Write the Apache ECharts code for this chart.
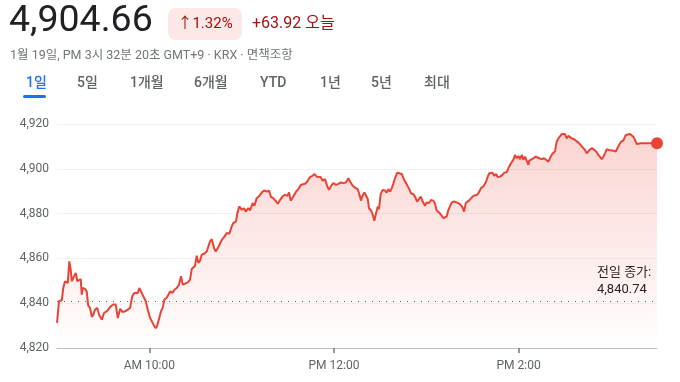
<!DOCTYPE html>
<html><head><meta charset="utf-8">
<script src="https://cdn.jsdelivr.net/npm/echarts@6/dist/echarts.min.js"></script>
<style>html,body{margin:0;padding:0;background:#fff}#c{width:680px;height:382px}</style>
</head><body><div id="c"></div>
<script>
// minutes since 09:00 (KRX session 09:00–15:30)
const minutes = [0,1.3,3.1,4.1,5.2,6.3,7.0,8.0,8.9,9.6,10.6,12.2,13.2,14.3,15.4,16.1,16.7,18.2,19.3,20.3,21.5,22.6,23.6,24.7,26.2,27.3,29.1,30.6,32.3,33.3,34.9,36.6,38.2,39.5,40.3,41.1,42.7,44.2,46.0,47.5,48.9,50.3,51.4,52.5,53.5,54.6,56.1,57.7,59.0,60.5,61.6,63.1,64.2,65.0,66.3,67.6,68.7,69.8,71.3,72.4,73.5,75.0,76.3,77.8,79.3,80.6,81.7,83.2,85.0,86.5,87.6,88.6,89.7,90.8,91.9,93.0,94.1,95.6,97.3,98.4,99.5,100.6,102.1,103.2,104.9,107.1,108.6,110.3,112.0,113.6,114.6,116.4,117.2,118.5,120.1,121.6,122.7,124.4,125.5,127.2,128.3,129.8,131.5,133.1,134.6,136.3,137.8,139.1,140.6,142.4,143.5,145.0,146.5,148.2,149.7,150.8,151.9,153.6,155.4,156.9,158.4,159.5,161.2,162.7,164.5,166.0,167.3,168.8,170.1,171.4,172.7,174.2,175.7,176.8,178.1,179.6,181.4,182.9,184.4,186.1,187.7,189.4,190.5,192.2,193.7,195.5,196.3,197.6,198.5,199.8,200.9,202.0,202.8,204.1,205.2,206.3,207.4,208.5,209.3,210.4,211.7,213.2,214.3,215.4,216.5,217.6,218.6,219.7,221.2,222.5,224.1,225.6,226.7,228.0,229.0,230.1,231.6,232.7,234.0,235.3,236.4,237.7,239.2,240.3,241.8,243.1,244.6,245.7,246.8,248.3,249.6,251.1,252.2,253.3,254.4,255.5,256.6,258.1,259.4,260.9,262.4,263.5,264.6,265.7,266.7,267.8,269.1,270.6,271.7,273.2,274.5,275.6,277.1,278.7,280.0,281.0,282.1,283.0,284.3,285.4,286.5,288.0,289.5,290.8,292.3,293.4,295.1,296.6,297.7,298.8,299.9,301.0,302.1,303.1,304.2,305.3,306.4,307.0,308.1,309.6,311.2,312.5,313.5,315.1,316.6,317.9,319.4,320.9,322.2,323.7,324.8,325.9,327.0,328.1,329.1,330.2,331.3,332.4,333.5,334.6,336.1,337.4,338.9,340.4,341.7,343.2,344.3,345.4,346.5,348.0,349.3,350.4,351.9,353.0,354.1,355.1,356.2,357.3,358.8,360.1,361.6,363.2,364.2,365.3,366.6,368.1,369.7,371.0,372.5,373.6,374.6,375.7,376.8,377.9,379.6,390];
const prices = [4831.2,4840.9,4841.3,4846.8,4849.8,4850.5,4849.0,4858.7,4855.0,4849.8,4851.3,4853.5,4849.8,4849.0,4850.8,4843.8,4846.8,4846.4,4845.3,4838.9,4837.9,4833.9,4834.9,4837.1,4837.9,4834.9,4832.7,4835.7,4836.4,4836.0,4838.6,4839.4,4839.4,4833.4,4833.0,4837.5,4836.0,4836.4,4837.1,4837.9,4843.1,4844.6,4845.3,4844.6,4846.8,4846.0,4843.1,4840.9,4837.1,4833.4,4833.0,4830.0,4828.8,4829.7,4833.0,4836.4,4837.9,4841.6,4842.4,4843.8,4845.3,4844.6,4846.0,4846.8,4848.3,4852.0,4848.3,4848.7,4849.3,4850.5,4855.3,4854.7,4856.7,4861.2,4858.0,4859.0,4861.7,4862.1,4863.1,4863.6,4867.6,4868.6,4864.6,4863.1,4865.1,4868.3,4869.5,4871.3,4871.0,4874.3,4875.8,4876.5,4880.2,4883.2,4881.7,4882.4,4880.9,4882.4,4881.4,4884.7,4883.5,4886.9,4887.9,4889.4,4890.3,4889.8,4890.3,4887.4,4886.9,4885.4,4884.4,4886.1,4887.6,4888.4,4887.9,4889.4,4885.8,4887.6,4889.8,4890.9,4892.8,4893.3,4893.3,4894.3,4896.3,4896.8,4897.7,4896.5,4897.3,4896.3,4894.7,4895.4,4892.1,4890.6,4892.4,4893.6,4892.8,4893.3,4893.9,4893.6,4893.9,4895.8,4894.3,4892.4,4891.6,4890.9,4889.1,4885.8,4887.9,4889.4,4889.1,4886.5,4882.4,4881.4,4879.5,4876.8,4880.2,4883.2,4882.0,4888.8,4890.6,4890.3,4889.4,4890.9,4889.8,4891.4,4893.3,4895.8,4898.3,4897.7,4897.7,4895.1,4893.9,4894.3,4890.9,4889.1,4888.7,4887.6,4885.4,4886.5,4887.6,4885.4,4883.5,4885.0,4884.7,4886.1,4885.8,4884.4,4881.4,4880.5,4879.5,4878.0,4877.6,4878.7,4881.7,4882.4,4885.0,4885.4,4884.7,4884.7,4883.9,4882.9,4880.9,4884.7,4885.0,4885.8,4885.4,4887.9,4887.4,4888.4,4889.8,4891.4,4892.1,4893.9,4896.5,4898.0,4897.3,4898.3,4896.8,4897.7,4896.3,4896.5,4897.3,4898.3,4898.5,4900.3,4902.5,4904.0,4906.2,4904.7,4905.7,4904.3,4906.2,4904.0,4905.4,4905.2,4901.7,4903.7,4904.3,4904.7,4905.4,4905.7,4904.7,4904.3,4904.7,4904.0,4903.2,4905.4,4906.9,4907.7,4912.1,4913.6,4914.3,4915.5,4915.1,4915.5,4913.6,4914.7,4915.1,4913.6,4913.2,4912.6,4911.7,4910.6,4910.2,4908.4,4906.9,4907.7,4908.7,4909.2,4909.2,4907.7,4906.2,4906.2,4904.3,4905.4,4906.9,4908.7,4908.4,4909.2,4908.1,4907.7,4906.9,4910.6,4912.1,4912.6,4915.1,4914.7,4915.5,4915.1,4914.3,4912.9,4911.1,4911.1,4911.4,4911.4];
const prevClose = 4840.74;
const tickMinutes = [60, 180, 300];
const tickLabels = ['AM 10:00', 'PM 12:00', 'PM 2:00'];
const tabs = ['1일','5일','1개월','6개월','YTD','1년','5년','최대'];
const tabX = [26, 77, 130, 194, 260, 320, 371, 424];

const FONT = "Roboto, 'Noto Sans CJK KR', sans-serif";
const RED = '#ea4335';
const series = minutes.map((m, i) => [m, prices[i]]);
const last = series[series.length - 1];

const chart = echarts.init(document.getElementById('c'), null, {renderer: 'canvas'});
const graphics = [
  {type:'text', left:9, top:3, style:{text:'4,904.66', fontSize:37.5, fontFamily:FONT, fill:'#202124'}},
  {type:'rect', shape:{x:168, y:8, width:74, height:32, r:8}, style:{fill:'#fce8e6'}},
  {type:'text', x:205, y:24, style:{text:'↑1.32%', fontSize:15, fontFamily:FONT, fill:'#a50e0e', align:'center', verticalAlign:'middle'}},
  {type:'text', x:252, y:24, style:{text:'+63.92 오늘', fontSize:16, fontFamily:FONT, fill:'#a50e0e', verticalAlign:'middle'}},
  {type:'text', x:10, y:56, style:{text:'1월 19일, PM 3시 32분 20초 GMT+9 · KRX · 면책조항', fontSize:12.5, fontFamily:FONT, fill:'#70757a', verticalAlign:'middle'}},
  {type:'rect', shape:{x:23, y:95, width:23, height:3, r:1.5}, style:{fill:'#1a73e8'}},
  {type:'text', x:597, y:273, style:{text:'전일 종가:', fontSize:13, fontFamily:FONT, fill:'#202124', verticalAlign:'middle'}},
  {type:'text', x:597, y:290, style:{text:'4,840.74', fontSize:13, fontFamily:FONT, fill:'#202124', verticalAlign:'middle'}}
];
tabs.forEach((t, i) => graphics.push({type:'text', x:tabX[i], y:83, style:{text:t, fontSize:14, fontWeight:500, fontFamily:FONT, fill: i===0 ? '#1a73e8' : '#5f6368', verticalAlign:'middle'}}));

chart.setOption({
  animation:false,
  grid:{left:57, right:23, top:124, bottom:34},
  xAxis:{type:'value', min:0, max:390,
    axisLine:{show:true, lineStyle:{color:'#bdc1c6', width:1}},
    axisTick:{show:true, customValues:tickMinutes, length:5, lineStyle:{color:'#70757a', width:1.5}},
    axisLabel:{customValues:tickMinutes, formatter:(v)=>tickLabels[tickMinutes.indexOf(v)], color:'#5f6368', fontSize:12, fontFamily:FONT, margin:12},
    splitLine:{show:false}},
  yAxis:{type:'value', min:4820, max:4920, interval:20,
    axisLine:{show:false}, axisTick:{show:false},
    axisLabel:{formatter:(v)=>v.toLocaleString('en-US'), color:'#5f6368', fontSize:12, fontFamily:FONT, margin:8},
    splitLine:{lineStyle:{color:'#f1f3f4', width:1}}},
  graphic:graphics,
  series:[
    {type:'line', data:series, showSymbol:false, symbol:'none', lineStyle:{color:RED, width:2}, 
     areaStyle:{color:new echarts.graphic.LinearGradient(0,0,0,1,[{offset:0,color:'rgba(234,67,53,0.32)'},{offset:1,color:'rgba(234,67,53,0.0)'}])},
     markLine:{symbol:'none', silent:true, label:{show:false}, lineStyle:{color:'#5f6368', type:[1,6], width:1}, data:[{yAxis:prevClose}]}},
    {type:'scatter', data:[last], symbol:'circle', symbolSize:12, itemStyle:{color:RED, opacity:1}, z:5}
  ]
});
</script></body></html>
